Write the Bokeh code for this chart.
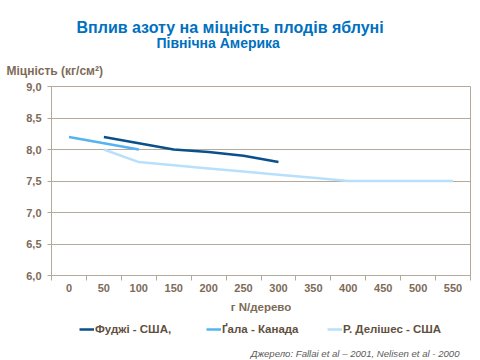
from bokeh.plotting import figure
from bokeh.layouts import column
from bokeh.models import FixedTicker, Title, Legend, LegendItem, Label, Range1d
from bokeh.embed import file_html
from bokeh.resources import INLINE
import numpy as np

# ---- data ----
x_labels = ["0", "50", "100", "150", "200", "250", "300", "350", "400", "450", "500", "550"]
fuji = [None, 8.2, 8.1, 8.0, 7.96, 7.9, 7.8, None, None, None, None, None]
gala = [8.2, 8.1, 8.0, None, None, None, None, None, None, None, None, None]
red_del = [None, 8.0, 7.8, 7.75, 7.7, 7.65, 7.6, 7.55, 7.5, 7.5, 7.5, 7.5]
series_names = ["Фуджі - США,", "Ґала - Канада", "Р. Делішес - США"]
y_ticks = [6.0, 6.5, 7.0, 7.5, 8.0, 8.5, 9.0]
y_tick_labels = ["6,0", "6,5", "7,0", "7,5", "8,0", "8,5", "9,0"]

title_text = "Вплив азоту на міцність плодів яблуні"
subtitle_text = "Північна Америка"
y_title = "Міцність  (кг/см²)"
x_title = "г N/дерево"
source_text = "Джерело: Fallai et al – 2001, Nelisen et al - 2000"

# ---- style ----
FONT = "Liberation Sans"
GRID = "#b4aa9c"
TXT = "#7d6b58"
BLUE = "#0070c0"
LEG_TXT = "#5f5040"
colors = ["#0a508c", "#55b4f0", "#b9e0fa"]

W = 480
H0, H1, H2 = 52, 268, 40           # title strip, chart, legend strip (page heights)
FL, FR, FT, FB = 51, 470, 86, 275  # chart frame edges in page pixels
Y1 = H0                            # page y of chart top
Y2 = H0 + H1                       # page y of legend strip top


def strip(height):
    f = figure(width=W, height=height, output_backend="svg", toolbar_location=None,
               x_axis_location=None, y_axis_location=None,
               min_border_left=FL, min_border_right=W - FR, min_border_top=0, min_border_bottom=0)
    f.x_range = Range1d(0, 1)
    f.y_range = Range1d(0, 1)
    f.grid.visible = False
    f.outline_line_color = None
    f.title.visible = False
    return f


def lab(fig, txt, px, py, top, height, size, color, style="bold", align="left"):
    # px, py in page pixels; screen units are relative to the frame's bottom-left
    fig.add_layout(Label(x=px - FL, y=top + height - py, x_units="screen", y_units="screen",
                         text=txt, text_font=FONT, text_font_size=size, text_font_style=style,
                         text_color=color, text_align=align, text_baseline="middle"))


# ---- title strip ----
p0 = strip(H0)
lab(p0, title_text, 76, 27, 0, H0, "16px", BLUE)
lab(p0, subtitle_text, 156, 42, 0, H0, "14px", BLUE)

# ---- chart ----
p = figure(width=W, height=H1, output_backend="svg", toolbar_location=None,
           min_border_left=FL, min_border_right=W - FR, min_border_top=FT - Y1,
           min_border_bottom=Y1 + H1 - FB)
p.x_range = Range1d(-0.5, len(x_labels) - 0.5)
p.y_range = Range1d(6.0, 9.0)
p.title.visible = False

xs = np.arange(len(x_labels), dtype=float)
def arr(v):
    return np.array([np.nan if a is None else a for a in v], dtype=float)

for vals, c in zip([fuji, gala, red_del], colors):
    p.line(xs, arr(vals), line_color=c, line_width=2.5)

xa = p.xaxis[0]
xa.ticker = FixedTicker(ticks=list(xs), minor_ticks=list(np.arange(-0.5, len(x_labels), 1.0)))
xa.major_label_overrides = {float(i): s for i, s in enumerate(x_labels)}
xa.major_tick_line_color = None
xa.major_tick_out = 0
xa.major_tick_in = 0
xa.minor_tick_out = 5
xa.minor_tick_in = 0
xa.minor_tick_line_color = GRID
xa.axis_line_color = GRID
xa.major_label_standoff = 3
xa.major_label_text_font = FONT
xa.major_label_text_font_style = "bold"
xa.major_label_text_font_size = "11px"
xa.major_label_text_color = TXT
xa.axis_label = x_title
xa.axis_label_standoff = 6
xa.axis_label_text_font = FONT
xa.axis_label_text_font_style = "bold"
xa.axis_label_text_font_size = "11.5px"
xa.axis_label_text_color = TXT

ya = p.yaxis[0]
ya.ticker = FixedTicker(ticks=y_ticks, minor_ticks=[])
ya.major_label_overrides = {t: s for t, s in zip(y_ticks, y_tick_labels)}
ya.major_tick_out = 4
ya.major_tick_in = 0
ya.major_tick_line_color = GRID
ya.minor_tick_line_color = None
ya.axis_line_color = GRID
ya.major_label_standoff = 6
ya.major_label_text_font = FONT
ya.major_label_text_font_style = "bold"
ya.major_label_text_font_size = "11px"
ya.major_label_text_color = TXT

p.xgrid.grid_line_color = None
p.ygrid.grid_line_color = GRID
p.ygrid.grid_line_width = 1
p.outline_line_color = GRID
p.outline_line_alpha = 1.0

p.add_layout(Title(text=y_title, align="left", offset=-45, standoff=18,
                   text_font=FONT, text_font_size="12px", text_font_style="bold",
                   text_color=TXT), "above")

# ---- legend strip + source note ----
p2 = strip(H2)
legend_x = [79, 206, 327]
legend_y = 329
for name, c, lx in zip(series_names, colors, legend_x):
    r = p2.line(x=[np.nan], y=[np.nan], line_color=c, line_width=2.5)
    leg = Legend(items=[LegendItem(label=name, renderers=[r])],
                 location=(lx - FL, Y2 + H2 - legend_y - 7),
                 glyph_width=15, glyph_height=14, label_standoff=1,
                 label_height=14, padding=0, margin=0,
                 label_text_font=FONT, label_text_font_style="bold",
                 label_text_font_size="11.5px", label_text_color=LEG_TXT,
                 background_fill_alpha=0, border_line_color=None)
    p2.add_layout(leg, "center")

lab(p2, source_text, 459, 353, Y2, H2, "9.6px", "#5a5a5a", style="italic", align="right")

open("out.html", "w").write(file_html(column(p0, p, p2, spacing=0), INLINE))
